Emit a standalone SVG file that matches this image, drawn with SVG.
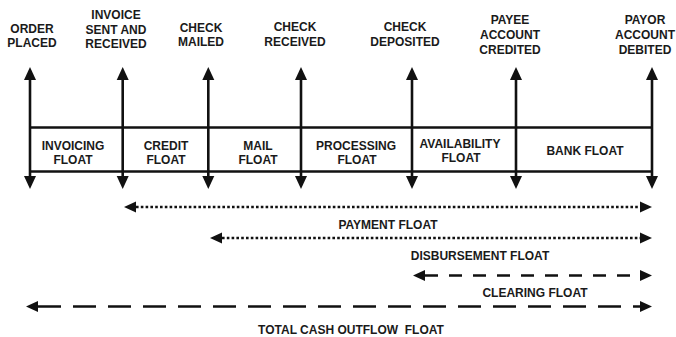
<svg xmlns="http://www.w3.org/2000/svg" width="676" height="337" viewBox="0 0 676 337">
<style>
text{font-family:"Liberation Sans",Arial,sans-serif;font-weight:bold;font-size:12px;fill:#1a1a1a;text-anchor:middle}
.v{stroke:#111;stroke-width:2.6;fill:none;marker-start:url(#vh);marker-end:url(#vh)}
.band{stroke:#111;stroke-width:2.4;fill:none}
.h{stroke:#111;stroke-width:2.4;fill:none;marker-start:url(#hh);marker-end:url(#hh)}
.dot{stroke-dasharray:2.6 2.2}
.dash{stroke-dasharray:13 11}
.long{stroke-dasharray:23 12}
</style>
<defs>
<marker id="vh" markerUnits="userSpaceOnUse" markerWidth="14" markerHeight="13" refX="0" refY="6" orient="auto-start-reverse" overflow="visible">
<path d="M0,0 L13,6 L0,12 z" fill="#111"/>
</marker>
<marker id="hh" markerUnits="userSpaceOnUse" markerWidth="13" markerHeight="11" refX="0" refY="5.5" orient="auto-start-reverse" overflow="visible">
<path d="M0,0 L12,5.5 L0,11 z" fill="#111"/>
</marker>
</defs>
<rect width="676" height="337" fill="#fff"/>
<g id="band">
<line class="band" x1="30" y1="127.5" x2="652" y2="127.5"/>
<line class="band" x1="30" y1="171.5" x2="652" y2="171.5"/>
</g>
<g id="order-placed">
<line class="v" x1="30" y1="80" x2="30" y2="176"/>
<text x="32" y="32.6">ORDER</text><text x="32" y="47">PLACED</text>
</g>
<g id="invoice-sent">
<line class="v" x1="122.7" y1="80" x2="122.7" y2="176"/>
<text x="116" y="19.3">INVOICE</text><text x="116" y="33.6">SENT AND</text><text x="116" y="48">RECEIVED</text>
</g>
<g id="check-mailed">
<line class="v" x1="208.3" y1="80" x2="208.3" y2="176"/>
<text x="201" y="31.6">CHECK</text><text x="201" y="46">MAILED</text>
</g>
<g id="check-received">
<line class="v" x1="301" y1="80" x2="301" y2="176"/>
<text x="295" y="31.4">CHECK</text><text x="295" y="46">RECEIVED</text>
</g>
<g id="check-deposited">
<line class="v" x1="412" y1="80" x2="412" y2="176"/>
<text x="405" y="30.8">CHECK</text><text x="405" y="46">DEPOSITED</text>
</g>
<g id="payee-credited">
<line class="v" x1="516" y1="80" x2="516" y2="176"/>
<text x="510" y="23.6">PAYEE</text><text x="510" y="38.6">ACCOUNT</text><text x="510" y="53.6">CREDITED</text>
</g>
<g id="payor-debited">
<line class="v" x1="652" y1="80" x2="652" y2="176"/>
<text x="645" y="23.6">PAYOR</text><text x="645" y="38.6">ACCOUNT</text><text x="645" y="53.6">DEBITED</text>
</g>
<g id="invoicing-float"><text x="73" y="150.3">INVOICING</text><text x="73" y="164.3">FLOAT</text></g>
<g id="credit-float"><text x="166" y="150">CREDIT</text><text x="166" y="164.3">FLOAT</text></g>
<g id="mail-float"><text x="258" y="150">MAIL</text><text x="258" y="164.3">FLOAT</text></g>
<g id="processing-float"><text x="356" y="150">PROCESSING</text><text x="357" y="163.6">FLOAT</text></g>
<g id="availability-float"><text x="460" y="148.3">AVAILABILITY</text><text x="461" y="162.3">FLOAT</text></g>
<g id="bank-float"><text x="585" y="155">BANK FLOAT</text></g>
<g id="connectors">
<line class="h dot" x1="136" y1="207" x2="640" y2="207"/>
<line class="h dot" x1="222" y1="238" x2="640" y2="238"/>
<line class="h dash" x1="425" y1="275.5" x2="640" y2="275.5"/>
<line class="h long" x1="38" y1="306.5" x2="640" y2="306.5"/>
</g>
<g id="labels">
<text x="388" y="228.6">PAYMENT FLOAT</text>
<text x="480" y="260">DISBURSEMENT FLOAT</text>
<text x="535" y="297">CLEARING FLOAT</text>
<text x="351" y="333.5" xml:space="preserve">TOTAL CASH OUTFLOW  FLOAT</text>
</g>
</svg>
